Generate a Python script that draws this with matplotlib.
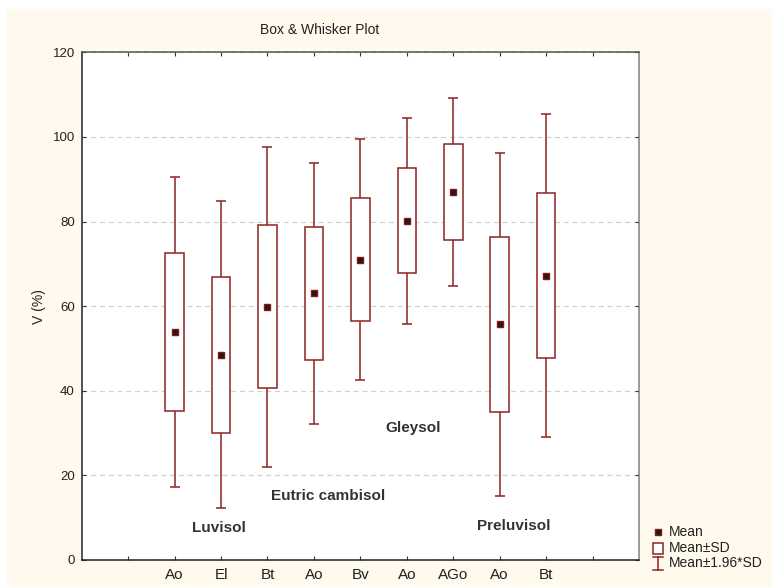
import matplotlib
matplotlib.use("Agg")
import matplotlib.pyplot as plt
from matplotlib.patches import Rectangle
from matplotlib.lines import Line2D
import numpy as np

plt.rcParams['font.family'] = ['Liberation Sans', 'DejaVu Sans']

# Horizons per soil type, with mean and standard deviation of V (%)
horizons = ["Ao", "El", "Bt", "Ao", "Bv", "Ao", "AGo", "Ao", "Bt"]
means = [53.8, 48.5, 59.9, 63.0, 71.0, 80.2, 87.0, 55.7, 67.2]
sds = [18.7, 18.5, 19.3, 15.7, 14.5, 12.4, 11.3, 20.7, 19.5]
soil_labels = ["Luvisol", "Eutric cambisol", "Gleysol", "Preluvisol"]
soil_label_pos = [(2.96, 7.6), (5.31, 15.1), (7.13, 31.2), (9.30, 8.0)]
yticks = [0, 20, 40, 60, 80, 100, 120]

W, H = 772, 587
edge = "#8e2222"
fig = plt.figure(figsize=(W / 100, H / 100), dpi=100, facecolor="white")
fig.patches.append(Rectangle((7 / W, 0), 1 - 7 / W, 1 - 9 / H, transform=fig.transFigure,
                             facecolor="#fff9ee", edgecolor="none", zorder=-10))

ax = fig.add_axes([81.7 / W, 1 - 560 / H, (639 - 81.7) / W, (560 - 52.3) / H])
ax.set_facecolor("white")

x = np.arange(2, 2 + len(horizons))
m = np.array(means)
s = np.array(sds)

# whiskers: mean ± 1.96*SD
ax.errorbar(x, m, yerr=1.96 * s, fmt="none", ecolor=edge, elinewidth=1.1,
            capsize=3.8, capthick=1.1, zorder=2)
# boxes: mean ± SD
ax.bar(x, 2 * s, bottom=m - s, width=0.4, facecolor="white", edgecolor=edge,
       linewidth=1.1, zorder=3)
# means
ax.plot(x, m, linestyle="none", marker="s", markersize=5,
        markerfacecolor="#2a1414", markeredgecolor="#7a1a1a", markeredgewidth=1, zorder=4)

for lab, (lx, ly) in zip(soil_labels, soil_label_pos):
    ax.text(lx, ly, lab, ha="center", va="center", fontsize=11, fontweight="bold",
            color="#333333", zorder=5)

ax.set_xlim(0, 12)
ax.set_ylim(0, 120)
ax.set_xticks(np.arange(1, 12))
ax.set_xticklabels([""] + horizons + [""], fontsize=11, color="#222222")
ax.set_yticks(yticks)
ax.set_yticklabels([str(v) for v in yticks], fontsize=9.5, color="#222222")
ax.tick_params(direction="in", length=3, width=0.8, top=True, right=True,
               color="#333333", pad=5)
ax.tick_params(axis="x", pad=6)

ax.yaxis.grid(True, linestyle=(0, (4, 3)), color="#d0d0d0", linewidth=0.9, zorder=0)
ax.set_axisbelow(True)

ax.spines["left"].set_color("#222222")
ax.spines["bottom"].set_color("#222222")
ax.spines["top"].set_color("#555555")
ax.spines["right"].set_color("#808080")
for sp in ax.spines.values():
    sp.set_linewidth(1.1)

ax.set_ylabel("V (%)", fontsize=10, color="#222222", labelpad=5)

fig.text(320 / W, 1 - 30 / H, "Box & Whisker Plot", ha="center", va="center",
         fontsize=10, color="#222222")

# legend
lx = 658 / W
fig.add_artist(Line2D([lx], [1 - 532 / H], marker="s", markersize=5,
                      markerfacecolor="#2a1414", markeredgecolor="#7a1a1a",
                      linestyle="none", transform=fig.transFigure))
fig.add_artist(Rectangle((653 / W, 1 - 554 / H), 10 / W, 11 / H, facecolor="white",
                         edgecolor=edge, linewidth=1.1, transform=fig.transFigure))
fig.add_artist(Line2D([lx, lx], [1 - 570 / H, 1 - 557 / H], color=edge, linewidth=1.1,
                      transform=fig.transFigure))
for yy in (557, 570):
    fig.add_artist(Line2D([653 / W, 663 / W], [1 - yy / H, 1 - yy / H], color=edge,
                          linewidth=1.1, transform=fig.transFigure))
for yy, t in zip((532, 548, 563), ("Mean", "Mean±SD", "Mean±1.96*SD")):
    fig.text(669 / W, 1 - yy / H, t, ha="left", va="center", fontsize=10, color="#222222")

fig.savefig("out.png", dpi=100, facecolor=fig.get_facecolor())
